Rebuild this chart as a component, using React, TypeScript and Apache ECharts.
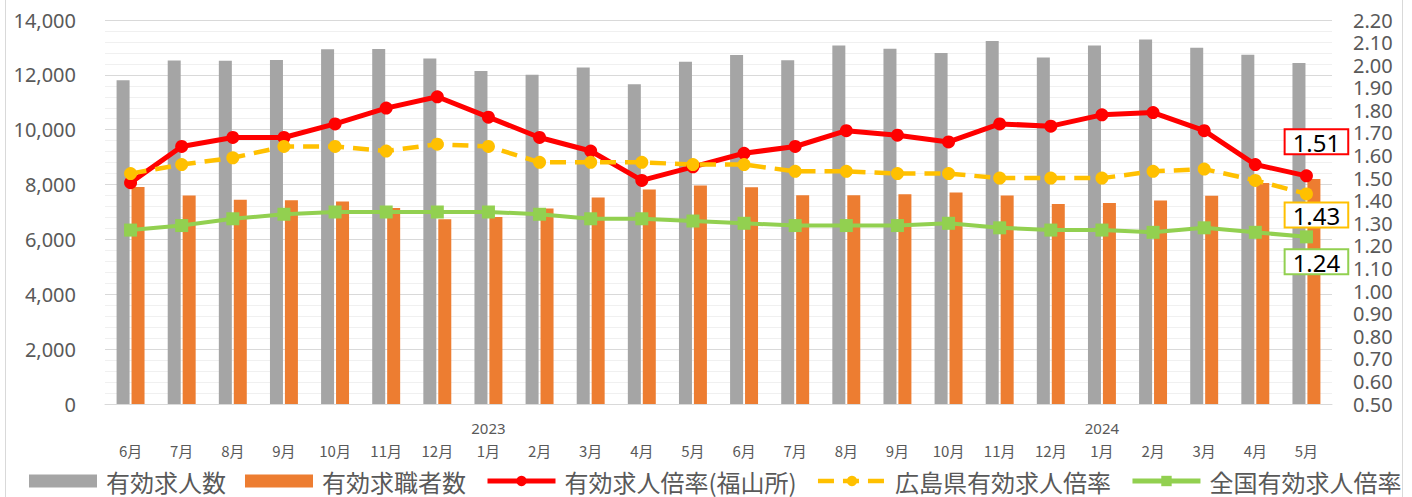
import React, { useEffect, useRef } from "react";
import * as echarts from "echarts";

const months = ["6月", "7月", "8月", "9月", "10月", "11月", "12月", "1月", "2月", "3月", "4月", "5月", "6月", "7月", "8月", "9月", "10月", "11月", "12月", "1月", "2月", "3月", "4月", "5月"];
const years = ["", "", "", "", "", "", "", "2023", "", "", "", "", "", "", "", "", "", "", "", "2024", "", "", "", ""];

const jobOffers = [11800, 12520, 12510, 12540, 12930, 12940, 12600, 12140, 12000, 12270, 11660, 12480, 12720, 12530, 13070, 12950, 12800, 13230, 12630, 13070, 13290, 12990, 12730, 12430];
const jobSeekers = [7910, 7600, 7450, 7430, 7380, 7150, 6740, 6820, 7130, 7530, 7820, 7970, 7900, 7610, 7610, 7650, 7710, 7600, 7290, 7330, 7420, 7590, 8060, 8200];
const fukuyamaRatio = [1.48, 1.64, 1.68, 1.68, 1.74, 1.81, 1.86, 1.77, 1.68, 1.62, 1.49, 1.55, 1.61, 1.64, 1.71, 1.69, 1.66, 1.74, 1.73, 1.78, 1.79, 1.71, 1.56, 1.51];
const hiroshimaRatio = [1.52, 1.56, 1.59, 1.64, 1.64, 1.62, 1.65, 1.64, 1.57, 1.57, 1.57, 1.56, 1.56, 1.53, 1.53, 1.52, 1.52, 1.5, 1.5, 1.5, 1.53, 1.54, 1.49, 1.43];
const nationalRatio = [1.27, 1.29, 1.32, 1.34, 1.35, 1.35, 1.35, 1.35, 1.34, 1.32, 1.32, 1.31, 1.3, 1.29, 1.29, 1.29, 1.3, 1.28, 1.27, 1.27, 1.26, 1.28, 1.26, 1.24];

const NUM_FONT = "'Noto Sans', 'Noto Sans CJK JP', sans-serif";
const CJK_FONT = "'Noto Sans CJK JP', 'Noto Sans', sans-serif";
const GREY_TEXT = "#595959";

function withLastLabel(values: number[], color: string, position: string, distance: number) {
  return values.map((v, i) => {
    if (i !== values.length - 1) return v;
    return {
      value: v,
      label: {
        show: true,
        position,
        distance,
        offset: [10, 0],
        formatter: () => v.toFixed(2),
        color: "#000",
        fontSize: 24,
        fontFamily: NUM_FONT,
        lineHeight: 22,
        backgroundColor: "#fff",
        borderColor: color,
        borderWidth: 2,
        padding: [1, 7, 0, 7],
      },
    };
  });
}

export default function App() {
  const ref = useRef<HTMLDivElement>(null);
  useEffect(() => {
    document.body.style.margin = "0";
    if (!ref.current) return;
    const chart = echarts.init(ref.current, undefined, { renderer: "svg" });
    chart.setOption({
      animation: false,
      backgroundColor: "#fff",
      textStyle: { fontFamily: NUM_FONT },
      graphic: [
        {
          type: "rect",
          silent: true,
          shape: { x: 5.5, y: -5, width: 1397, height: 510 },
          style: { fill: "none", stroke: "#d9d9d9", lineWidth: 1 },
        },
      ],
      grid: { left: 105, top: 20, width: 1227, height: 384, containLabel: false },
      legend: {
        left: 29,
        top: 469,
        padding: 0,
        itemWidth: 68,
        itemHeight: 13,
        itemGap: 19,
        textStyle: { fontSize: 24, color: GREY_TEXT, fontFamily: CJK_FONT, padding: [0, 0, 0, 4], lineHeight: 24 },
        data: [
          { name: "有効求人数", icon: "rect" },
          { name: "有効求職者数", icon: "rect" },
          { name: "有効求人倍率(福山所)", lineStyle: { width: 5 } },
          { name: "広島県有効求人倍率", lineStyle: { width: 4.5 } },
          { name: "全国有効求人倍率", lineStyle: { width: 5 } },
        ],
      },
      xAxis: {
        type: "category",
        data: months,
        axisLine: { show: true, lineStyle: { color: "#d9d9d9", width: 1 } },
        axisTick: { show: false },
        axisLabel: {
          interval: 0,
          margin: 11,
          formatter: (v: string, i: number) => `{y|${years[i] || " "}}\n{m|${v}}`,
          rich: {
            y: { fontSize: 15, lineHeight: 26, color: GREY_TEXT, fontFamily: NUM_FONT },
            m: { fontSize: 15, lineHeight: 18, color: GREY_TEXT, fontFamily: CJK_FONT },
          },
        },
      },
      yAxis: [
        {
          type: "value",
          min: 0,
          max: 14000,
          interval: 2000,
          position: "left",
          axisLine: { show: false },
          axisTick: { show: false },
          axisLabel: {
            margin: 29,
            fontSize: 20,
            lineHeight: 20,
            color: GREY_TEXT,
            fontFamily: NUM_FONT,
            formatter: (v: number) => v.toLocaleString("en-US"),
          },
          splitLine: { show: true, lineStyle: { color: "#d9d9d9", width: 1 } },
          minorTick: { show: false, splitNumber: 5 },
          minorSplitLine: { show: true, lineStyle: { color: "#f0f0f0", width: 1 } },
        },
        {
          type: "value",
          min: 0.5,
          max: 2.2,
          interval: 0.1,
          position: "right",
          axisLine: { show: false },
          axisTick: { show: false },
          splitLine: { show: false },
          axisLabel: {
            margin: 21,
            fontSize: 20,
            lineHeight: 20,
            color: GREY_TEXT,
            fontFamily: NUM_FONT,
            formatter: (v: number) => v.toFixed(2),
          },
        },
      ],
      series: [
        {
          name: "有効求人数",
          type: "bar",
          data: jobOffers,
          barWidth: 13,
          barGap: "15%",
          itemStyle: { color: "#a5a5a5" },
        },
        {
          name: "有効求職者数",
          type: "bar",
          data: jobSeekers,
          barWidth: 13,
          barGap: "15%",
          itemStyle: { color: "#ed7d31" },
        },
        {
          name: "有効求人倍率(福山所)",
          type: "line",
          yAxisIndex: 1,
          data: withLastLabel(fukuyamaRatio, "#ff0000", "top", 16),
          symbol: "circle",
          symbolSize: 13,
          lineStyle: { color: "#ff0000", width: 5 },
          itemStyle: { color: "#ff0000" },
        },
        {
          name: "広島県有効求人倍率",
          type: "line",
          yAxisIndex: 1,
          data: withLastLabel(hiroshimaRatio, "#ffc000", "bottom", 3),
          symbol: "circle",
          symbolSize: 13,
          lineStyle: { color: "#ffc000", width: 4.5, type: [16, 9] },
          itemStyle: { color: "#ffc000" },
        },
        {
          name: "全国有効求人倍率",
          type: "line",
          yAxisIndex: 1,
          data: withLastLabel(nationalRatio, "#92d050", "bottom", 7),
          symbol: "rect",
          symbolSize: 13,
          lineStyle: { color: "#92d050", width: 4 },
          itemStyle: { color: "#92d050" },
        },
      ],
    });
    return () => chart.dispose();
  }, []);
  return <div ref={ref} style={{ width: 1412, height: 497 }} />;
}
